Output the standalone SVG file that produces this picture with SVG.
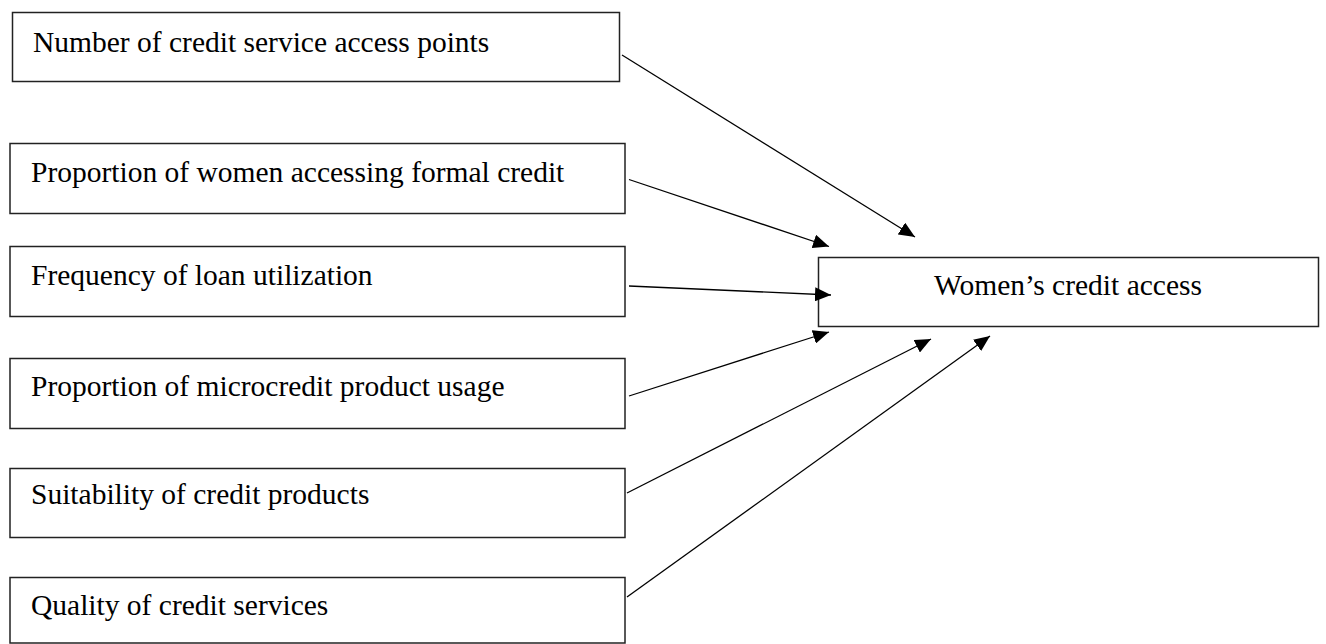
<svg xmlns="http://www.w3.org/2000/svg" width="1326" height="644" viewBox="0 0 1326 644">
<style>
.box{fill:#fff;stroke:#222;stroke-width:1.5}
.lbl{font-family:"Liberation Serif","Times New Roman",serif;font-size:29.5px;fill:#000}
.con{stroke:#000;stroke-width:1.3;fill:none;marker-end:url(#ah)}
</style>
<defs>
<marker id="ah" markerUnits="userSpaceOnUse" markerWidth="17" markerHeight="14" refX="16" refY="7" orient="auto">
<path d="M0,0 L16,7 L0,14 z" fill="#000"/>
</marker>
</defs>
<rect width="1326" height="644" fill="#fff"/>
<g id="n1"><rect class="box" x="12.5" y="12.5" width="607" height="69"/><text class="lbl" x="33" y="52">Number of credit service access points</text></g>
<g id="n2"><rect class="box" x="10" y="143.5" width="615" height="70"/><text class="lbl" x="31" y="182">Proportion of women accessing formal credit</text></g>
<g id="n3"><rect class="box" x="10" y="246.5" width="615" height="70"/><text class="lbl" x="31" y="285">Frequency of loan utilization</text></g>
<g id="n4"><rect class="box" x="10" y="358.5" width="615" height="70"/><text class="lbl" x="31" y="396">Proportion of microcredit product usage</text></g>
<g id="n5"><rect class="box" x="10" y="468.5" width="615" height="69"/><text class="lbl" x="31" y="504">Suitability of credit products</text></g>
<g id="n6"><rect class="box" x="10" y="577.5" width="615" height="65.5"/><text class="lbl" x="31" y="615">Quality of credit services</text></g>
<g id="target"><rect class="box" x="818.5" y="257.5" width="500" height="69"/><text class="lbl" x="1068" y="295" text-anchor="middle">Women’s credit access</text></g>
<g id="connectors">
<line class="con" x1="622" y1="55" x2="915" y2="237"/>
<line class="con" x1="629" y1="179.5" x2="829" y2="246.5"/>
<line class="con" x1="629" y1="286" x2="831" y2="295"/>
<line class="con" x1="629" y1="396" x2="829" y2="332"/>
<line class="con" x1="627" y1="493" x2="931" y2="339"/>
<line class="con" x1="627" y1="597" x2="990" y2="336"/>
</g>
</svg>
